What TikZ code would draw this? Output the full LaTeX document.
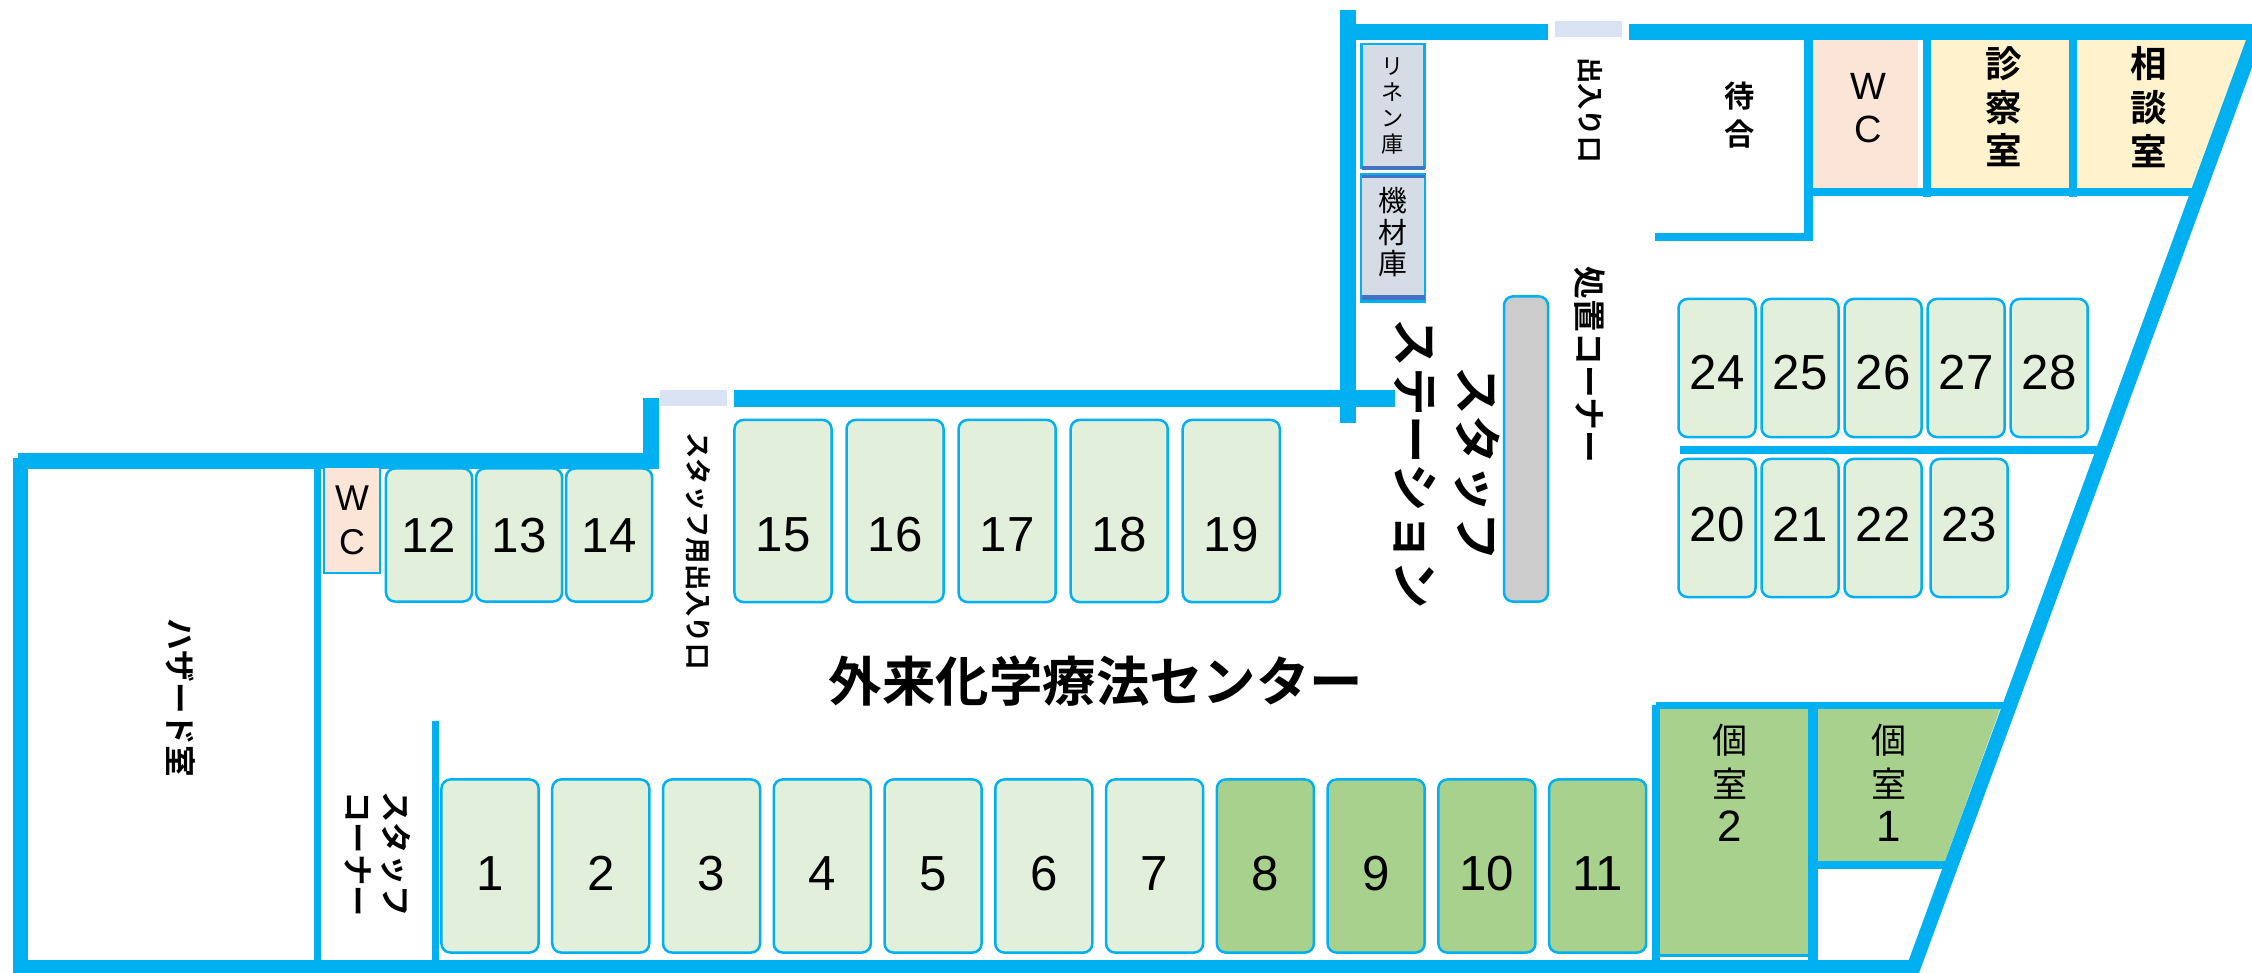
\documentclass[tikz,border=0pt]{standalone}
\usepackage{fontspec}
\setmainfont{Liberation Sans}
\newfontfamily\jpfont[BoldFont={Noto Sans CJK JP Bold}]{Noto Sans CJK JP}
\usetikzlibrary{positioning}
\definecolor{wallblue}{HTML}{00B0F0}
\definecolor{doorblue}{HTML}{DAE3F3}
\definecolor{seatlight}{HTML}{E2EFDA}
\definecolor{seatdark}{HTML}{A9D18E}
\definecolor{wcpink}{HTML}{FBE5D6}
\definecolor{roomyellow}{HTML}{FFF2CC}
\definecolor{storegray}{HTML}{D6DCE5}
\definecolor{storebar}{HTML}{4472C4}
\newcommand{\jpsize}[1]{\fontsize{#1}{#1}\selectfont\jpfont}
\tikzset{wall/.style={fill=wallblue},
door/.style={fill=doorblue},
seat node/.style={draw=wallblue,fill=seatlight,line width=0.025cm,rounded corners=0.09cm,outer sep=0pt,inner sep=0pt,minimum width=0.97cm,minimum height=1.73cm,text height=0.49cm,font=\fontsize{14pt}{16pt}\selectfont},
dark seat/.style={seat node,fill=seatdark},
wide seat/.style={seat node,minimum height=1.82cm,text height=0.81cm},
short seat/.style={seat node,minimum width=0.86cm,minimum height=1.33cm,text height=0.35cm},
back seat/.style={seat node,minimum width=0.77cm,minimum height=1.38cm,text height=0.43cm},
front seat/.style={back seat,text height=0.35cm,text depth=0.08cm},
store node/.style={draw=wallblue,fill=storegray,line width=0.025cm,outer sep=0pt,inner sep=0pt,align=center},
label node/.style={inner sep=0pt,align=center,font=\bfseries},
side label/.style={label node,rotate=-90},
}
\begin{document}
\begin{tikzpicture}[x=0.01cm,y=-0.01cm]
    \useasboundingbox (0,0) rectangle (2252,973);
    % rooms
    \fill[wcpink] (1813,40) rectangle (1918,188);
    \fill[roomyellow] (1931,40) rectangle (2069,188);
    \fill[roomyellow] (2077,40) -- (2247,40) -- (2193,188) -- (2077,188) -- cycle;
    \fill[seatdark] (1660,709) rectangle (1808,954);
    \fill[seatdark] (1818,709) -- (2000,709) -- (1945,861) -- (1818,861) -- cycle;
    % walls
    \fill[wall] (1340,10) rectangle (1356,423);
    \fill[wall] (1340,24) rectangle (1548,40);
    \fill[wall] (1629,24) rectangle (2252,40);
    \fill[wall] (1804,40) rectangle (1813,241);
    \fill[wall] (1655,233) rectangle (1807,241);
    \fill[wall] (1813,188) rectangle (2199,196);
    \fill[wall] (1923,40) rectangle (1931,197);
    \fill[wall] (2069,40) rectangle (2077,197);
    \fill[wall] (734,390) rectangle (1395,407);
    \fill[wall] (643,398) rectangle (659,469);
    \fill[wall] (18,453) rectangle (659,469);
    \fill[wall] (13,458) rectangle (28,973);
    \fill[wall] (13,960) rectangle (1917,973);
    \fill[wall] (314,469) rectangle (321,960);
    \fill[wall] (432,721) rectangle (439,960);
    \fill[wall] (1680,446) rectangle (2098,454);
    \fill[wall] (1652,705) rectangle (1660,960);
    \fill[wall] (1656,702) rectangle (2004,709);
    \fill[wall] (1808,709) rectangle (1818,960);
    \fill[wall] (1818,861) rectangle (1945,869);
    \fill[wall] (1660,954) rectangle (1808,957);
    \fill[wall] (2246,40) -- (2262,40) -- (1919,973) -- (1904,973) -- cycle;
    % doors
    \fill[door] (1555,21) rectangle (1622,37);
    \fill[door] (660,390) rectangle (727,406);
    % seats along the bottom
    \node[seat node] (1) at (490,866) {1};
    \node[seat node] (2) [right = 0.137cm of 1] {2};
    \node[seat node] (3) [right = 0.137cm of 2] {3};
    \node[seat node] (4) [right = 0.137cm of 3] {4};
    \node[seat node] (5) [right = 0.137cm of 4] {5};
    \node[seat node] (6) [right = 0.137cm of 5] {6};
    \node[seat node] (7) [right = 0.137cm of 6] {7};
    \node[dark seat] (8) [right = 0.137cm of 7] {8};
    \node[dark seat] (9) [right = 0.137cm of 8] {9};
    \node[dark seat] (10) [right = 0.137cm of 9] {10};
    \node[dark seat] (11) [right = 0.137cm of 10] {11};
    % seats along the upper wall
    \node[short seat] (12) at (429,535) {12};
    \node[short seat] (13) [right = 0.04cm of 12] {13};
    \node[short seat] (14) [right = 0.04cm of 13] {14};
    \node[wide seat] (15) at (783,511) {15};
    \node[wide seat] (16) [right = 0.15cm of 15] {16};
    \node[wide seat] (17) [right = 0.15cm of 16] {17};
    \node[wide seat] (18) [right = 0.15cm of 17] {18};
    \node[wide seat] (19) [right = 0.15cm of 18] {19};
    % seats on the right
    \node[back seat] (24) at (1717,368) {24};
    \node[back seat] (25) [right = 0.06cm of 24] {25};
    \node[back seat] (26) [right = 0.06cm of 25] {26};
    \node[back seat] (27) [right = 0.06cm of 26] {27};
    \node[back seat] (28) [right = 0.06cm of 27] {28};
    \node[front seat] (20) at (1717,528) {20};
    \node[front seat] (21) [right = 0.06cm of 20] {21};
    \node[front seat] (22) [right = 0.06cm of 21] {22};
    \node[front seat] (23) [right = 0.09cm of 22] {23};
    % stores and counter
    \node[store node,minimum width=0.63cm,minimum height=1.24cm,font=\jpsize{6.3pt}] (linen) at (1393,106) {リ\\[1.1pt]ネ\\[1.1pt]ン\\[1.1pt]庫};
    \node[store node,minimum width=0.64cm,minimum height=1.27cm,text depth=0.14cm,font=\jpsize{8.2pt}] (kizai) at (1393,238) {機\\[0.8pt]材\\[0.8pt]庫};
    \fill[storebar] (1362,166) rectangle (1425,170);
    \fill[storebar] (1362,175) rectangle (1425,178);
    \fill[storebar] (1362,295) rectangle (1425,300);
    \node[seat node,fill=black!20,minimum width=0.44cm,minimum height=3.05cm] (counter) at (1526,449) {};
    \node[draw=wallblue,fill=wcpink,line width=0.02cm,inner sep=0pt,minimum width=0.56cm,minimum height=1.05cm,align=center,font=\fontsize{10.2pt}{12.5pt}\selectfont] (wc small) at (352,520) {W\\C};
    % labels
    \node[align=center,inner sep=0pt,font=\fontsize{10.8pt}{12.3pt}\selectfont] (wc) at (1868,108) {W\\C};
    \node[label node,font=\jpsize{8.6pt}\bfseries] (machiai) at (1740,115) {待\\[2pt]合};
    \node[label node,font=\jpsize{10.4pt}\bfseries] (shinsatsu) at (2004,107) {診\\[2pt]察\\[2pt]室};
    \node[label node,font=\jpsize{10.4pt}\bfseries] (soudan) at (2149,107) {相\\[2pt]談\\[2pt]室};
    \node[align=center,inner sep=0pt,font=\jpsize{10pt}] (koshitsu2) at (1730,783) {個\\[2.5pt]室\\[2.5pt]{\fontsize{12.5pt}{12.5pt}\selectfont\rmfamily 2}};
    \node[align=center,inner sep=0pt,font=\jpsize{10pt}] (koshitsu1) at (1889,783) {個\\[2.5pt]室\\[2.5pt]{\fontsize{12.5pt}{12.5pt}\selectfont\rmfamily 1}};
    \node[label node,font=\jpsize{15.2pt}\bfseries] (center) at (1096,681) {外来化学療法センター};
    \node[side label,font=\jpsize{13.8pt}\bfseries] (station) at (1447,464) {スタッフ\\[4pt]ステーション};
    \node[side label,font=\jpsize{9.3pt}\bfseries] (shochi) at (1590,365) {処置コーナー};
    \node[side label,font=\jpsize{7.5pt}\bfseries] (entrance) at (1590,110) {出入り口};
    \node[side label,font=\jpsize{7.5pt}\bfseries] (staff door) at (698,551) {スタッフ用出入り口};
    \node[side label,font=\jpsize{9pt}\bfseries] (hazard) at (181,698) {ハザード室};
    \node[side label,font=\jpsize{8.9pt}\bfseries] (staff corner) at (378,854) {スタッフ\\[2pt]コーナー};
\end{tikzpicture}
\end{document}
